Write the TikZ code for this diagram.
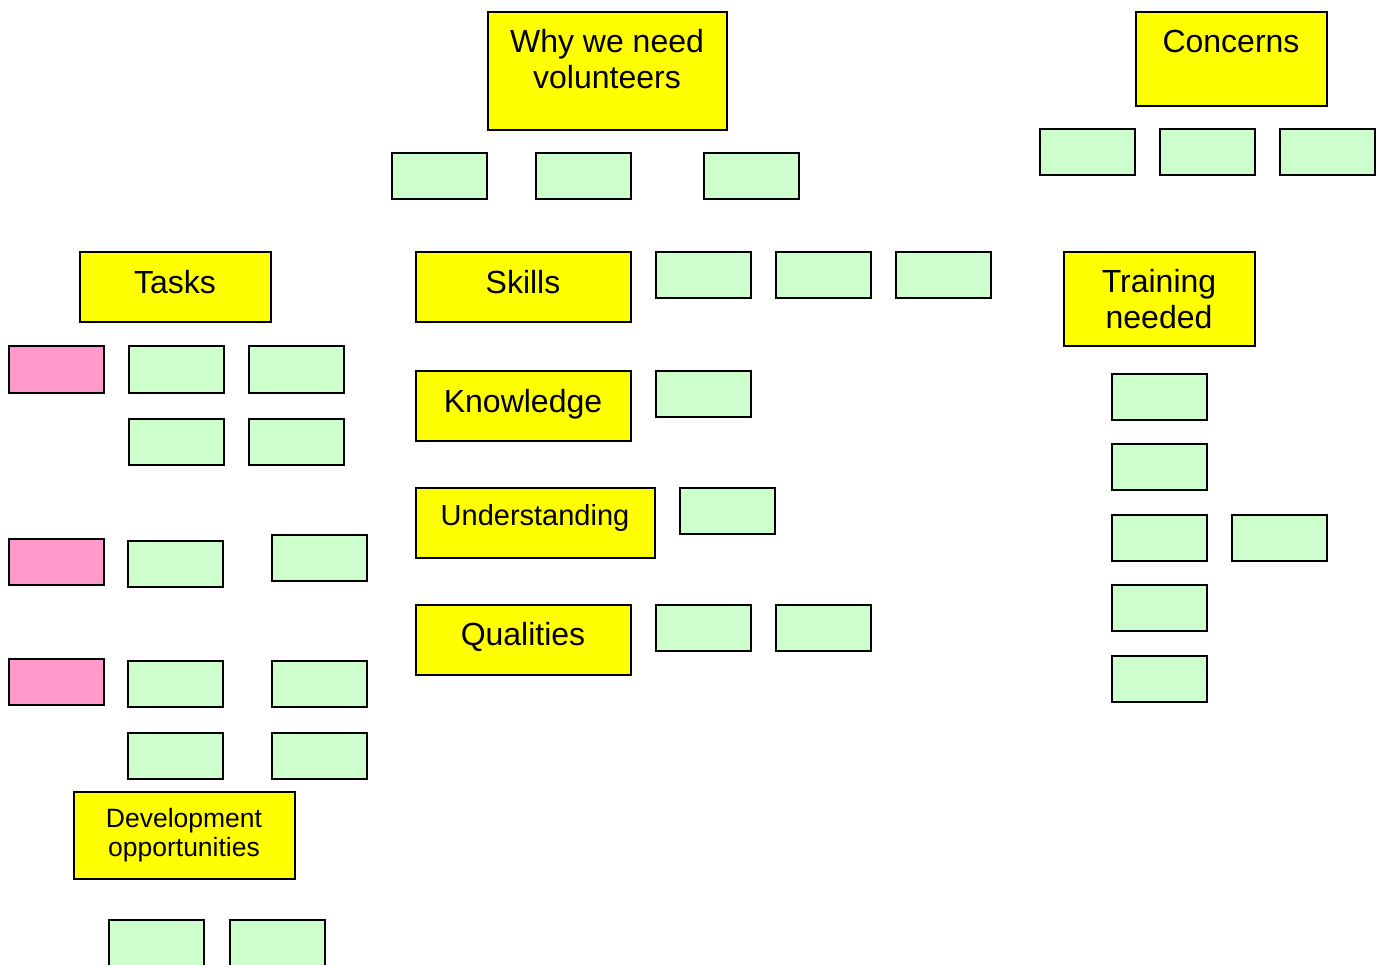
\documentclass[tikz,border=0pt]{standalone}
\usepackage{fontspec}
\setmainfont{Liberation Sans}
\definecolor{yfill}{HTML}{FFFF00}
\definecolor{gfill}{HTML}{CCFFCC}
\definecolor{pfill}{HTML}{FF99CC}
\tikzset{
  basebox/.style={draw=black, line width=2pt, rectangle, inner sep=0pt},
  gbox/.style={basebox, fill=gfill, minimum width=95pt, minimum height=46pt},
  pbox/.style={basebox, fill=pfill, minimum width=95pt, minimum height=46pt},
  ybox/.style={basebox, fill=yfill},
  big/.style={inner sep=0pt, font=\fontsize{32}{36}\selectfont, align=center},
  mid/.style={inner sep=0pt, font=\fontsize{29}{34}\selectfont, align=center},
  small/.style={inner sep=0pt, font=\fontsize{26.5}{29.5}\selectfont, align=center},
}
\begin{document}
\begin{tikzpicture}[x=1pt,y=-1pt]
\useasboundingbox (0,0) rectangle (1378,965);
% yellow headers
\node[ybox, minimum width=239pt, minimum height=118pt] (why) at (607,71.5) {};
\node[ybox, minimum width=191pt, minimum height=94pt] (conc) at (1231,59.5) {};
\node[ybox, minimum width=191pt, minimum height=70pt] (tasks) at (175,287.5) {};
\node[ybox, minimum width=215pt, minimum height=70pt] (skills) at (523,287.5) {};
\node[ybox, minimum width=215pt, minimum height=70pt] (know) at (523,405.5) {};
\node[ybox, minimum width=239pt, minimum height=70pt] (under) at (535,522.5) {};
\node[ybox, minimum width=215pt, minimum height=70pt] (qual) at (523,639.5) {};
\node[ybox, minimum width=191pt, minimum height=94pt] (train) at (1159,299.5) {};
\node[ybox, minimum width=221pt, minimum height=87pt] (dev) at (184,835) {};
% header texts
\node[big, anchor=north] (twhy) at (607,29) {Why we need\\volunteers};
\node[big, anchor=base] (tconc) at (1231,53) {Concerns};
\node[big, anchor=base] (ttasks) at (175,294) {Tasks};
\node[big, anchor=base] (tskills) at (523,294) {Skills};
\node[big, anchor=base] (tknow) at (523,412) {Knowledge};
\node[mid, anchor=base] (tunder) at (535,525) {Understanding};
\node[big, anchor=base] (tqual) at (523,645) {Qualities};
\node[big, anchor=north] (ttrain) at (1159,269) {Training\\needed};
\node[small, anchor=north] (tdev) at (184,808) {Development\\opportunities};
% green boxes: why
\node[gbox] (w1) at (439,176.5) {};
\node[gbox] (w2) at (583,176.5) {};
\node[gbox] (w3) at (751,176.5) {};
% concerns
\node[gbox] (c1) at (1087,152.5) {};
\node[gbox] (c2) at (1207,152.5) {};
\node[gbox] (c3) at (1327,152.5) {};
% skills
\node[gbox] (s1) at (703,275.5) {};
\node[gbox] (s2) at (823,275.5) {};
\node[gbox] (s3) at (943,275.5) {};
% knowledge
\node[gbox] (k1) at (703,393.5) {};
% understanding
\node[gbox] (u1) at (727,510.5) {};
% qualities
\node[gbox] (q1) at (703,628) {};
\node[gbox] (q2) at (823,628) {};
% tasks
\node[pbox] (p1) at (56,369.5) {};
\node[gbox] (t1) at (176,369.5) {};
\node[gbox] (t2) at (296,369.5) {};
\node[gbox] (t3) at (176,441.5) {};
\node[gbox] (t4) at (296,441.5) {};
\node[pbox] (p2) at (56,561.5) {};
\node[gbox] (t5) at (175,563.5) {};
\node[gbox] (t6) at (319,557.5) {};
\node[pbox] (p3) at (56,681.5) {};
\node[gbox] (t7) at (175,683.5) {};
\node[gbox] (t8) at (319,683.5) {};
\node[gbox] (t9) at (175,755.5) {};
\node[gbox] (t10) at (319,755.5) {};
% training
\node[gbox] (r1) at (1159,396.5) {};
\node[gbox] (r2) at (1159,466.5) {};
\node[gbox] (r3) at (1159,537.5) {};
\node[gbox] (r4) at (1279,537.5) {};
\node[gbox] (r5) at (1159,607.5) {};
\node[gbox] (r6) at (1159,678.5) {};
% development
\node[gbox] (d1) at (156,943) {};
\node[gbox] (d2) at (277,943) {};
\end{tikzpicture}
\end{document}
